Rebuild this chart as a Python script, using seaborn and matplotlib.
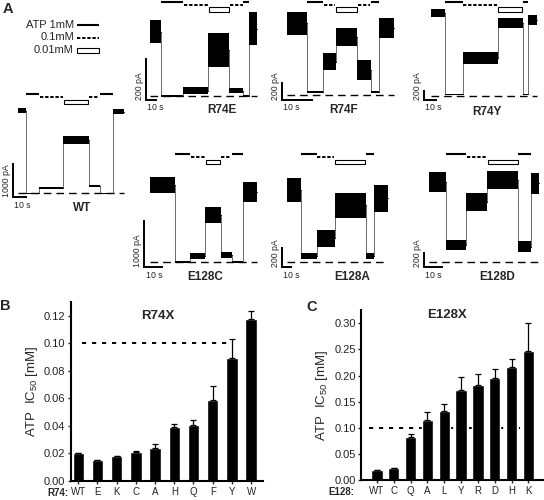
import numpy as np
import pandas as pd
import matplotlib
matplotlib.use("Agg")
import matplotlib.pyplot as plt
import matplotlib.transforms as mtransforms
from matplotlib.patches import Rectangle
import seaborn as sns

# ---------------- Panel B data (R74X) ----------------
r74_labels = ["WT", "E", "K", "C", "A", "H", "Q", "F", "Y", "W"]
r74_ic50 = [0.0203, 0.0150, 0.0178, 0.0210, 0.0239, 0.0392, 0.0409, 0.0590, 0.0890, 0.1178]
r74_sem = [0.0003, 0.0005, 0.0005, 0.0008, 0.0029, 0.0022, 0.0036, 0.0099, 0.0140, 0.0060]

# ---------------- Panel C data (E128X) ----------------
e128_labels = ["WT", "C", "Q", "A", "L", "Y", "R", "D", "H", "K"]
e128_ic50 = [0.0190, 0.0224, 0.0830, 0.1150, 0.1330, 0.1730, 0.1810, 0.1950, 0.2170, 0.2470]
e128_sem = [0.0005, 0.0012, 0.0045, 0.0160, 0.0120, 0.0240, 0.0214, 0.0170, 0.0150, 0.0530]
ref_ic50 = 0.10

# ---------------- Panel A current traces ----------------
# segments: control, ATP 1mM, 0.1mM, 0.01mM, 0.1mM, 1mM, washout
# boundaries in s, mean current in pA, noise band in pA
wt_t = [3.8, 9.4, 18.5, 35.3, 53.1, 61.0, 70.3, 77.8]
wt_i = [2430, 0, 147, 1570, 216, 0, 2400]
wt_n = [160, 30, 60, 215, 60, 30, 160]

r74e_t = [3.5, 13.0, 33.0, 55.2, 73.5, 86.1, 90.9, 98.0]
r74e_i = [308, 0, 24, 220, 24, 0, 323]
r74e_n = [112, 8, 32, 160, 25, 8, 160]

r74f_t = [1.6, 7.9, 13.1, 17.1, 23.8, 28.1, 30.8, 35.5]
r74f_i = [782, 36, 364, 636, 273, 36, 727]
r74f_n = [250, 20, 180, 200, 218, 20, 218]

r74y_t = [5.0, 16.0, 29.0, 55.5, 74.3, 74.3, 78.0, 85.0]
r74y_i = [1647, 27, 747, 1447, 747, 27, 1513]
r74y_n = [160, 30, 240, 200, 240, 30, 200]

e128c_t = [3.0, 16.2, 24.1, 32.0, 40.2, 46.0, 52.2, 59.2]
e128c_i = [1621, 0, 120, 987, 141, 0, 1480]
e128c_n = [352, 40, 120, 352, 120, 40, 423]

e128a_t = [5.0, 19.3, 35.0, 53.3, 84.0, 84.0, 92.3, 106.6]
e128a_i = [696, 55, 226, 550, 226, 55, 615]
e128a_n = [226, 50, 162, 243, 162, 50, 260]

e128d_t = [2.6, 11.4, 21.8, 32.8, 48.9, 48.9, 55.6, 59.6]
e128d_i = [1022, 213, 766, 1043, 766, 192, 1000]
e128d_n = [255, 128, 234, 234, 234, 140, 270]

scale_s = 10

# layout (pixels): origin x, baseline y, px per s, px per pA, scale pA, bar offset px, protocol y, label xy
W, H = 544, 500
trace_layout = [
    ("WT",    wt_t,    wt_i,    wt_n,    12.8,  193.3, 1.43, 0.034,  1000, 4.0, 94.0,  (82, 208)),
    ("R74E",  r74e_t,  r74e_i,  r74e_n,  146.0, 95.7,  1.13, 0.208,  200,  4.3, 1.5,   (222, 110)),
    ("R74F",  r74f_t,  r74f_i,  r74f_n,  281.7, 95.0,  3.17, 0.0917, 200,  5.0, 1.5,   (344, 110)),
    ("R74Y",  r74y_t,  r74y_i,  r74y_n,  424.0, 95.7,  1.33, 0.050,  200,  4.3, 1.5,   (487, 112)),
    ("E128C", e128c_t, e128c_i, e128c_n, 144.3, 261.7, 1.90, 0.0473, 1000, 5.7, 154.0, (205, 277)),
    ("E128A", e128a_t, e128a_i, e128a_n, 281.7, 261.7, 1.00, 0.103,  200,  5.7, 154.0, (352, 277)),
    ("E128D", e128d_t, e128d_i, e128d_n, 424.0, 261.7, 1.93, 0.0783, 200,  5.7, 154.0, (497, 277)),
]

sns.set_style("white")
plt.rcParams["font.family"] = ["Liberation Sans", "DejaVu Sans"]
plt.rcParams["mathtext.default"] = "regular"
plt.rcParams["lines.scale_dashes"] = False

fig = plt.figure(figsize=(W / 100, H / 100), dpi=100)


def yfrac(p):
    return 1 - p / H


def draw_trace(name, t, cur, noise, x0, y0, pxs, pyp, scale_pa, boff, ytop, lab):
    ax = fig.add_axes([0, 0, 1, 1], facecolor="none")
    ax.set_xlim(-x0 / pxs, (W - x0) / pxs)
    ax.set_ylim(-(H - y0) / pyp, y0 / pyp)
    ax.axis("off")
    # zero-current baseline
    ax.plot([t[0], t[-1]], [0, 0], color="black", lw=1.0, dashes=(5.5, 3.6), zorder=1)
    for k in range(7):
        a, b = t[k], t[k + 1]
        if b <= a:
            continue
        ax.fill_between([a, b], [cur[k] - noise[k] / 2] * 2, [cur[k] + noise[k] / 2] * 2,
                        color="black", lw=0, zorder=3)
        ax.plot([a, b], [cur[k], cur[k]], color="black", lw=0.7, zorder=3)
    for k in range(6):
        ax.plot([t[k + 1]] * 2, [cur[k], cur[k + 1]], color="#555555", lw=0.6, zorder=2)
    # solution protocol
    bt = mtransforms.blended_transform_factory(ax.transData, ax.transAxes)
    ax.plot([t[1], t[2]], [yfrac(ytop)] * 2, transform=bt, color="black", lw=1.5,
            solid_capstyle="butt")
    ax.plot([t[2] + 0.6 / pxs, t[3] - 0.6 / pxs], [yfrac(ytop + 3)] * 2, transform=bt,
            color="black", lw=1.4, dashes=(2.4, 1.3))
    ax.add_patch(Rectangle((t[3] + 0.4 / pxs, yfrac(ytop + 10)), t[4] - t[3] - 0.8 / pxs, 4 / H,
                           transform=bt, fill=False, ec="black", lw=0.8))
    if t[5] > t[4]:
        ax.plot([t[4] + 0.6 / pxs, t[5] - 0.6 / pxs], [yfrac(ytop + 3)] * 2, transform=bt,
                color="black", lw=1.4, dashes=(2.4, 1.3))
    if t[6] > t[5]:
        ax.plot([t[5], t[6]], [yfrac(ytop)] * 2, transform=bt, color="black", lw=1.5,
                solid_capstyle="butt")
    # scale bar
    yb = -boff / pyp
    ax.plot([0, 0, scale_s], [yb + scale_pa, yb, yb], color="black", lw=1.4,
            solid_joinstyle="miter", solid_capstyle="butt")
    ax.annotate(f"{scale_s} s", xy=(0, yb), xytext=(1, -2.5), textcoords="offset points",
                ha="left", va="top", fontsize=6.3)
    ax.annotate(f"{scale_pa} pA", xy=(0, yb), xytext=(-1.5, 0), textcoords="offset points",
                ha="right", va="bottom", rotation=90, fontsize=6.3)
    fig.text(lab[0] / W, yfrac(lab[1]), name, ha="center", va="center",
             fontsize=8.5, fontweight="bold")


for spec in trace_layout:
    draw_trace(*spec)


def bar_panel(rect, labels, vals, sems, width, xlim, ylim, yticks, ref_span, prefix, prefix_x, lab_y):
    ax = fig.add_axes(rect, facecolor="none")
    df = pd.DataFrame({"mut": labels, "ic50": vals})
    sns.barplot(data=df, x="mut", y="ic50", color="black", saturation=1, width=width,
                errorbar=None, ax=ax, zorder=2)
    n = len(vals)
    ax.errorbar(np.arange(n), vals, yerr=[np.zeros(n), sems], fmt="none", ecolor="black",
                elinewidth=0.9, capsize=1.9, capthick=0.9, zorder=3)
    ax.plot(ref_span, [ref_ic50, ref_ic50], color="black", lw=1.4, dashes=(3.0, 4.2), zorder=1)
    ax.set_xlim(*xlim)
    ax.set_ylim(*ylim)
    ax.set_yticks(yticks)
    ax.set_yticklabels([f"{v:.2f}" for v in yticks])
    ax.set_xlabel("")
    ax.set_ylabel("ATP  IC$_{50}$ [mM]", fontsize=9.5, labelpad=3)
    for s in ["top", "right"]:
        ax.spines[s].set_visible(False)
    for s in ["left", "bottom"]:
        ax.spines[s].set_linewidth(1.5)
        ax.spines[s].set_color("black")
    ax.tick_params(axis="y", direction="out", length=2.5, width=1, pad=1.5,
                   labelsize=8, labelcolor="#222222", left=True)
    ax.tick_params(axis="x", direction="out", length=2.5, width=1, pad=2,
                   labelsize=7, labelcolor="#222222", bottom=True)
    bt = mtransforms.blended_transform_factory(ax.transData, ax.transAxes)
    ax.text(prefix_x, lab_y, prefix, transform=bt, ha="right", va="center",
            fontsize=7, fontweight="bold")
    return ax


bar_panel([71 / W, (H - 481) / H, (263 - 71) / W, (481 - 302) / H],
          r74_labels, r74_ic50, r74_sem, 0.6, (-0.38, 9.62), (0, 0.13),
          [0.0, 0.02, 0.04, 0.06, 0.08, 0.10, 0.12], [0.2, 7.9], "R74:", -0.5, -0.067)
bar_panel([361.3 / W, (H - 480) / H, (543.5 - 361.3) / W, 170 / H],
          e128_labels, e128_ic50, e128_sem, 0.67, (-0.93, 9.9), (0, 0.3255),
          [0.0, 0.05, 0.10, 0.15, 0.20, 0.25, 0.30], [-0.49, 8.48], "E128:", -1.35, -0.072)

# overlay for legend, titles and panel letters (drawn last, on top)
ov = fig.add_axes([0, 0, 1, 1], facecolor="none")
ov.set_xlim(0, W)
ov.set_ylim(H, 0)
ov.axis("off")
for txt, yy in [("ATP 1mM", 25), ("0.1mM", 37.5), ("0.01mM", 50)]:
    ov.text(74, yy, txt, ha="right", va="center", fontsize=8)
ov.plot([77, 99], [25, 25], color="black", lw=1.5, solid_capstyle="butt")
ov.plot([77, 99], [37.5, 37.5], color="black", lw=1.4, dashes=(2.4, 1.3))
ov.add_patch(Rectangle((77, 48), 22, 4.5, fill=False, ec="black", lw=0.8))
ov.text(8, 9, "A", ha="center", va="center", fontsize=10.5, fontweight="bold")
ov.text(5, 306, "B", ha="center", va="center", fontsize=10.5, fontweight="bold")
ov.text(312, 307, "C", ha="center", va="center", fontsize=10.5, fontweight="bold")
ov.text(158, 316, "R74X", ha="center", va="center", fontsize=9.5, fontweight="bold")
ov.text(447, 315, "E128X", ha="center", va="center", fontsize=9.5, fontweight="bold")

fig.savefig("out.png", dpi=100)
